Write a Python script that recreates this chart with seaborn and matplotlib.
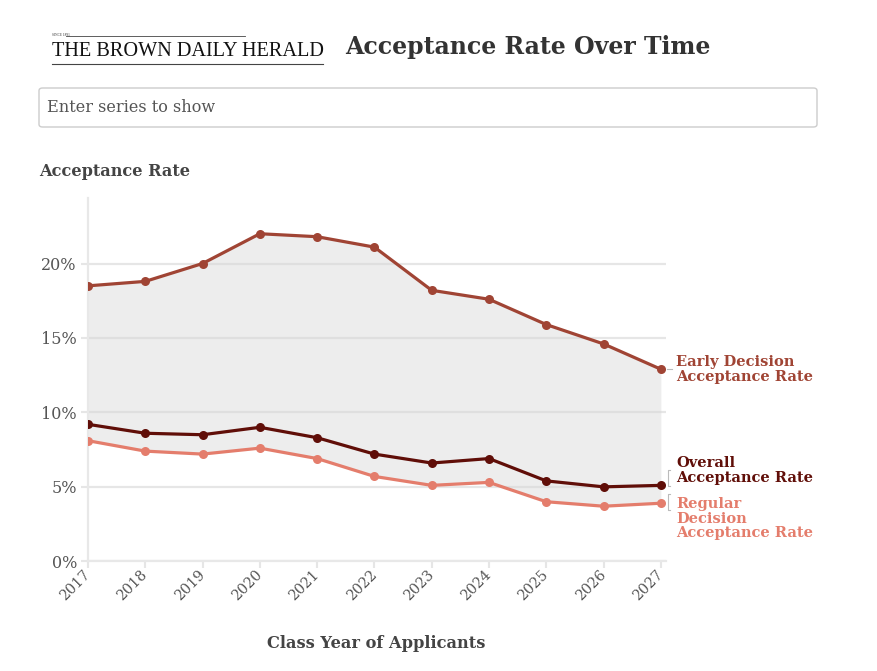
import matplotlib
matplotlib.use("Agg")
import matplotlib.pyplot as plt
from matplotlib.patches import FancyBboxPatch
import numpy as np
import pandas as pd
import seaborn as sns

# ---------------- data ----------------
years = [2017, 2018, 2019, 2020, 2021, 2022, 2023, 2024, 2025, 2026, 2027]
early_decision = [18.5, 18.8, 20.0, 22.0, 21.8, 21.1, 18.2, 17.6, 15.9, 14.6, 12.9]
overall = [9.2, 8.6, 8.5, 9.0, 8.3, 7.2, 6.6, 6.9, 5.4, 5.0, 5.1]
regular = [8.1, 7.4, 7.2, 7.6, 6.9, 5.7, 5.1, 5.3, 4.0, 3.7, 3.9]
series_names = ["Early Decision Acceptance Rate", "Overall Acceptance Rate",
                "Regular Decision Acceptance Rate"]
series_labels = ["Early Decision\nAcceptance Rate", "Overall\nAcceptance Rate",
                 "Regular\nDecision\nAcceptance Rate"]
colors = ["#a04434", "#600e08", "#e47d6c"]
y_ticks = [0, 5, 10, 15, 20]
y_tick_labels = ["0%", "5%", "10%", "15%", "20%"]

df = pd.DataFrame({
    "year": years * 3,
    "rate": early_decision + overall + regular,
    "series": [series_names[0]] * len(years) + [series_names[1]] * len(years)
              + [series_names[2]] * len(years),
})

SERIF = ["DejaVu Serif"]
plt.rcParams["font.family"] = SERIF

W, H = 878, 671
fig = plt.figure(figsize=(W / 100, H / 100), dpi=100)
fig.patch.set_facecolor("white")

def fx(px):
    return px / W

def fy(py):
    return 1 - py / H

ax = fig.add_axes([fx(88), fy(561.3), fx(666) - fx(88), fy(198) - fy(561.3)])
ax.set_facecolor("white")

# shaded band
ax.fill_between(years, regular, early_decision, color="#ededed", zorder=1, linewidth=0)

sns.lineplot(data=df, x="year", y="rate", hue="series", hue_order=series_names,
             palette=dict(zip(series_names, colors)), marker="o", markersize=6.5,
             markeredgewidth=0, linewidth=2.3, legend=False, ax=ax, zorder=3)

ax.set_xlim(2017, 2027.09)
ax.set_ylim(0, 24.4)
ax.set_axisbelow("line")
ax.yaxis.grid(True, color="#d6d6d6", alpha=0.6, linewidth=1.6)
ax.xaxis.grid(False)

ax.set_yticks(y_ticks)
ax.set_yticklabels(y_tick_labels)
ax.set_xticks(years)
ax.set_xticklabels([str(y) for y in years], rotation=45, ha="right",
                   rotation_mode="anchor")
ax.tick_params(axis="y", length=5, width=1.5, color="#e6e6e6", labelsize=11.5,
               labelcolor="#555555", pad=3)
ax.tick_params(axis="x", length=5, width=1.5, color="#e6e6e6", labelsize=10.3,
               labelcolor="#555555", pad=3)
for lbl in ax.get_xticklabels():
    lbl.set_va("center")
ax.set_xlabel("")
ax.set_ylabel("")
for s in ["top", "right"]:
    ax.spines[s].set_visible(False)
for s in ["left", "bottom"]:
    ax.spines[s].set_color("#e8e8e8")
    ax.spines[s].set_linewidth(1.6)

# end labels
offsets = [0, 11, -11]
for name, lab, col, vals, dy in zip(series_names, series_labels, colors,
                                    [early_decision, overall, regular], offsets):
    ax.annotate(lab, xy=(years[-1], vals[-1]), xytext=(11, dy),
                textcoords="offset points", ha="left", va="center",
                fontsize=10.5, fontweight="bold", color=col,
                linespacing=1.08, annotation_clip=False)

# small bracket marks next to labels
def bracket(x0, y0, y1):
    fig.add_artist(plt.Line2D([fx(x0 + 2), fx(x0), fx(x0), fx(x0 + 2)],
                              [fy(y0), fy(y0), fy(y1), fy(y1)],
                              color="#bbbbbb", linewidth=0.8))

fig.add_artist(plt.Line2D([fx(667), fx(672)], [fy(369), fy(369)],
                          color="#bbbbbb", linewidth=0.8))
bracket(668, 470, 486)
bracket(668, 494, 510)

# header: logo
fig.text(fx(52), fy(51), "THE BROWN DAILY HERALD", fontsize=14.6,
         family=["Liberation Serif"], color="#111111", va="center", ha="left")
fig.add_artist(plt.Line2D([fx(52), fx(323)], [fy(64), fy(64)], color="#444444",
                          linewidth=0.8))
fig.add_artist(plt.Line2D([fx(66), fx(245)], [fy(35.5), fy(35.5)], color="#444444",
                          linewidth=0.6))
fig.text(fx(52), fy(35.5), "SINCE 1891", fontsize=2.5, color="#333333",
         va="center", ha="left", family=["Liberation Serif"])

fig.text(fx(345), fy(47), "Acceptance Rate Over Time", fontsize=17,
         fontweight="bold", color="#333333", va="center", ha="left")

# search box
box = FancyBboxPatch((fx(39), fy(127)), fx(817) - fx(39), fy(88) - fy(127),
                     boxstyle="round,pad=0,rounding_size=0.004",
                     transform=fig.transFigure, facecolor="white",
                     edgecolor="#cccccc", linewidth=1.0)
fig.add_artist(box)
fig.text(fx(47), fy(107.5), "Enter series to show", fontsize=11.6,
         color="#555555", va="center", ha="left")

fig.text(fx(39), fy(172), "Acceptance Rate", fontsize=11.6, fontweight="bold",
         color="#444444", va="center", ha="left")
fig.text(fx(376), fy(643), "Class Year of Applicants", fontsize=11.7,
         fontweight="bold", color="#444444", va="center", ha="center")

fig.savefig("out.png", dpi=100, facecolor="white")
